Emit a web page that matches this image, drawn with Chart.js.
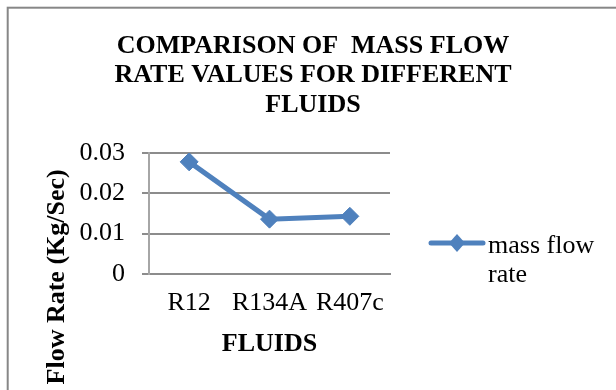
<!DOCTYPE html>
<html>
<head>
<meta charset="utf-8">
<script src="https://cdn.jsdelivr.net/npm/chart.js@4/dist/chart.umd.min.js"></script>
<style>
  html, body { margin: 0; padding: 0; background: #fff; overflow: hidden; }
  #wrap { width: 616px; height: 390px; }
</style>
</head>
<body>
<div id="wrap"><canvas id="c" width="616" height="390"></canvas></div>
<script>
// Mass flow rate of each refrigerant
const fluids = ['R12', 'R134A', 'R407c'];
const massFlowRate = [0.0278, 0.0136, 0.0143];
const yTicks = [0, 0.01, 0.02, 0.03];
const yTickLabels = ['0', '0.01', '0.02', '0.03'];
const titleLines = ['COMPARISON OF  MASS FLOW', 'RATE VALUES FOR DIFFERENT', 'FLUIDS'];
const xTitle = 'FLUIDS';
const yTitle = 'Mass Flow Rate (Kg/Sec)';
const seriesName = ['mass flow', 'rate'];

const SERIF = "'Liberation Serif', 'Times New Roman', serif";
const BLUE = '#4F81BD';
const GRID = '#8c8c8c';

// Frame, title, vertical axis title and legend
const decorations = {
  id: 'decorations',
  beforeDraw(chart) {
    const ctx = chart.ctx;
    ctx.save();
    ctx.fillStyle = '#fff';
    ctx.fillRect(0, 0, chart.width, chart.height);
    ctx.strokeStyle = '#878787';
    ctx.lineWidth = 2;
    ctx.strokeRect(7.7, 7.7, 800, 600);
    ctx.restore();
  },
  afterDraw(chart) {
    const ctx = chart.ctx;
    ctx.save();
    ctx.fillStyle = '#000';
    // chart title
    ctx.font = 'bold 26px ' + SERIF;
    ctx.textAlign = 'center';
    ctx.textBaseline = 'alphabetic';
    const baselines = [53, 82, 112];
    titleLines.forEach((t, i) => ctx.fillText(t, 313, baselines[i]));
    // vertical axis title
    ctx.save();
    ctx.translate(57, 309);
    ctx.rotate(-Math.PI / 2);
    ctx.textBaseline = 'middle';
    ctx.fillText(yTitle, 0, 0);
    ctx.restore();
    // legend
    const ly = 243;
    ctx.strokeStyle = BLUE;
    ctx.lineWidth = 5;
    ctx.lineCap = 'round';
    ctx.beginPath();
    ctx.moveTo(431, ly);
    ctx.lineTo(483, ly);
    ctx.stroke();
    ctx.fillStyle = BLUE;
    ctx.beginPath();
    ctx.moveTo(457 - 8, ly);
    ctx.lineTo(457, ly - 9);
    ctx.lineTo(457 + 8, ly);
    ctx.lineTo(457, ly + 9);
    ctx.closePath();
    ctx.fill();
    ctx.fillStyle = '#000';
    ctx.font = '26px ' + SERIF;
    ctx.textAlign = 'left';
    ctx.fillText(seriesName[0], 488, 253);
    ctx.fillText(seriesName[1], 488, 282);
    ctx.restore();
  }
};

new Chart(document.getElementById('c'), {
  type: 'line',
  data: {
    labels: fluids,
    datasets: [{
      label: seriesName.join(' '),
      data: massFlowRate,
      borderColor: BLUE,
      backgroundColor: BLUE,
      borderWidth: 5,
      pointStyle: 'rectRot',
      pointRadius: 9,
      pointBorderWidth: 1,
      pointBackgroundColor: BLUE,
      pointBorderColor: BLUE,
      tension: 0
    }]
  },
  options: {
    responsive: false,
    animation: false,
    devicePixelRatio: 1,
    layout: { padding: { left: 0, right: 226, top: 153, bottom: 0 } },
    plugins: {
      legend: { display: false },
      title: { display: false },
      tooltip: { enabled: false }
    },
    scales: {
      x: {
        offset: true,
        grid: { display: false },
        border: { display: true, color: GRID, width: 2 },
        ticks: { color: '#000', font: { family: SERIF, size: 26 }, padding: 6, maxRotation: 0, autoSkip: false },
        title: { display: true, text: xTitle, color: '#000', font: { family: SERIF, size: 26, weight: 'bold' }, padding: { top: 0, bottom: 30 } },
        afterFit(scale) { scale.height = 116; }
      },
      y: {
        min: 0,
        max: 0.03,
        afterBuildTicks(scale) { scale.ticks = yTicks.map(v => ({ value: v })); },
        grid: { color: GRID, lineWidth: 2, tickLength: 7, drawTicks: true },
        border: { display: true, color: '#a6a6a6', width: 2 },
        ticks: {
          color: '#000',
          font: { family: SERIF, size: 26 },
          padding: 17,
          callback: (v) => yTickLabels[yTicks.indexOf(v)]
        },
        afterFit(scale) { scale.width = 149; }
      }
    }
  },
  plugins: [decorations]
});
</script>
</body>
</html>
